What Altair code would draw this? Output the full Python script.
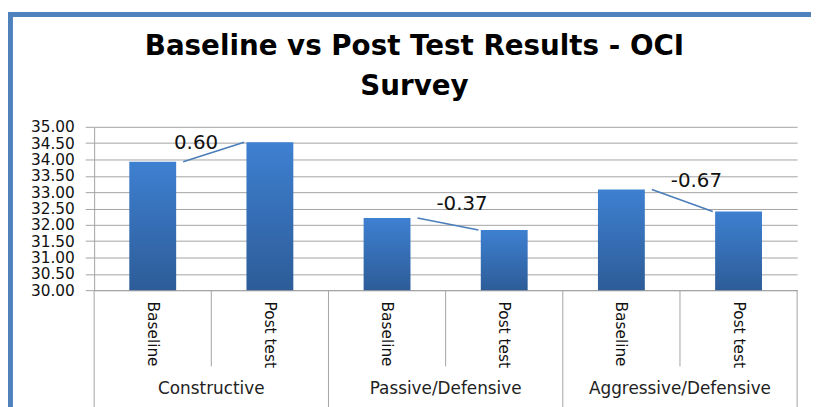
import altair as alt
import pandas as pd

# ---- data ----
groups = ["Constructive", "Passive/Defensive", "Aggressive/Defensive"]
phases = ["Baseline", "Post test"]
baseline_values = [33.93, 32.21, 33.08]
post_values = [34.53, 31.84, 32.41]
differences = ["0.60", "-0.37", "-0.67"]
y_ticks = [30.0, 30.5, 31.0, 31.5, 32.0, 32.5, 33.0, 33.5, 34.0, 34.5, 35.0]
title_lines = ["Baseline vs Post Test Results - OCI", "Survey"]

# ---- tables built from the lists ----
rows = []
for g, b, p in zip(groups, baseline_values, post_values):
    rows.append({"key": f"{g}|{phases[0]}", "value": b})
    rows.append({"key": f"{g}|{phases[1]}", "value": p})
bars_df = pd.DataFrame(rows)
keys = list(bars_df["key"])

n_cat = len(keys)
half_bar = 0.2  # bar covers 40% of a category slot
conn_rows, lab_rows = [], []
for i, (b, p, d) in enumerate(zip(baseline_values, post_values, differences)):
    c0 = 2 * i + 0.5
    x1 = c0 + half_bar + 0.06
    x2 = c0 + 1 - half_bar - 0.02
    conn_rows.append({"x1": x1, "x2": x2, "b": b, "p": p})
    mid_x = (x1 + x2) / 2
    mid_y = (b + p) / 2
    ly = mid_y + 0.6
    lx = mid_x + 0.12
    if ly > y_ticks[-1] - 0.5:
        ly = y_ticks[-1] - 0.5
        lx = mid_x - 0.15
    lab_rows.append({"lx": lx, "ly": ly, "txt": d})
conn_df = pd.DataFrame(conn_rows)
lab_df = pd.DataFrame(lab_rows)

group_bounds = pd.DataFrame({"pos": [2 * i for i in range(len(groups) + 1)]})
sub_bounds = pd.DataFrame({"pos": [2 * i + 1 for i in range(len(groups))]})
group_lab = pd.DataFrame({"pos": [2 * i + 1 for i in range(len(groups))], "g": groups})
title_df = pd.DataFrame({"t": ["\n".join(title_lines)]})

W, H = 710, 165
FONT = "DejaVu Sans"
GRID = "#A3A3A3"

qx = alt.Scale(domain=[0, n_cat], nice=False, zero=False)
ysc = alt.Scale(domain=[y_ticks[0], y_ticks[-1]], nice=False, zero=False)
yaxis = alt.Axis(values=y_ticks, format=".2f", labelFont=FONT,
                 labelFontSize=15.5, labelColor="#111111",
                 tickSize=9, tickColor=GRID, labelPadding=11,
                 domainColor=GRID, gridColor=GRID, grid=True)

gradient = alt.LinearGradient(
    gradient="linear",
    stops=[alt.GradientStop(color="#3E80D1", offset=0),
           alt.GradientStop(color="#2D5C98", offset=1)],
    x1=0, x2=0, y1=0, y2=1,
)

bars = alt.Chart(bars_df).mark_bar(
    width=alt.RelativeBandSize(0.4), color=gradient
).encode(
    x=alt.X("key:N", sort=keys, title=None,
            scale=alt.Scale(paddingInner=0, paddingOuter=0),
            axis=alt.Axis(labelExpr="split(datum.label, '|')[1]", labelAngle=90,
                          ticks=False, labelPadding=11, labelFont=FONT,
                          labelFontSize=15.5, labelColor="#111111",
                          domainColor=GRID, grid=False)),
    y=alt.Y("value:Q", scale=ysc, title=None, axis=yaxis),
    y2=alt.datum(y_ticks[0]),
)

conn = alt.Chart(conn_df).mark_rule(color="#4A7EBB", strokeWidth=1.6).encode(
    x=alt.X("x1:Q", scale=qx, axis=None),
    x2="x2:Q",
    y=alt.Y("b:Q", scale=ysc, title=None, axis=yaxis),
    y2="p:Q",
)

labels = alt.Chart(lab_df).mark_text(font=FONT, fontSize=20, color="#111111").encode(
    x=alt.X("lx:Q", scale=qx, axis=None),
    y=alt.Y("ly:Q", scale=ysc, title=None, axis=yaxis),
    text="txt:N",
)

gsep = alt.Chart(group_bounds).mark_rule(color=GRID, strokeWidth=1).encode(
    x=alt.X("pos:Q", scale=qx, axis=None),
    y=alt.value(H), y2=alt.value(H + 120),
)
ssep = alt.Chart(sub_bounds).mark_rule(color=GRID, strokeWidth=1).encode(
    x=alt.X("pos:Q", scale=qx, axis=None),
    y=alt.value(H), y2=alt.value(H + 77),
)
glab = alt.Chart(group_lab).mark_text(font=FONT, fontSize=17, color="#222222",
                                      baseline="middle").encode(
    x=alt.X("pos:Q", scale=qx, axis=None),
    y=alt.value(H + 100),
    text="g:N",
)

title = alt.Chart(title_df).mark_text(
    font=FONT, fontSize=28, fontWeight="bold", color="#000000",
    lineBreak="\n", lineHeight=41, baseline="alphabetic", align="center",
).encode(x=alt.value(323.5), y=alt.value(-73), text="t:N")

frame_df = pd.DataFrame({"f": [0]})
frame_left = alt.Chart(frame_df).mark_rule(color="#4F81BD", strokeWidth=5).encode(
    x=alt.value(-84.5), y=alt.value(-116), y2=alt.value(H + 120),
)
frame_top = alt.Chart(frame_df).mark_rule(color="#4F81BD", strokeWidth=5).encode(
    x=alt.value(-87), x2=alt.value(W + 40), y=alt.value(-113.5),
)

chart = alt.layer(
    bars, conn, labels, gsep, ssep, glab, title, frame_left, frame_top
).resolve_scale(x="independent").properties(
    width=W, height=H,
    autosize=alt.AutoSizeParams(type="none"),
    padding={"left": 87, "top": 118, "right": 14, "bottom": 116},
).configure_view(stroke=None)

chart.save("out.html", embed_options={"renderer": "svg", "actions": False})
